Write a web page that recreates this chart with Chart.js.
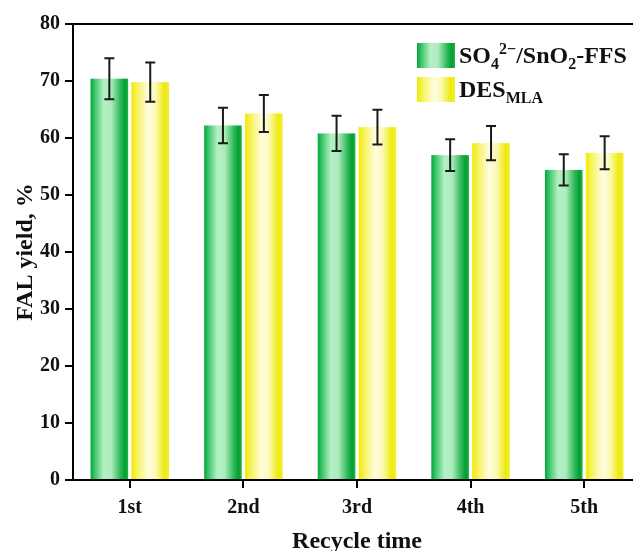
<!doctype html>
<html lang="en">
  <head>
    <meta charset="utf-8">
    <title>FAL yield vs recycle time</title>
    <style>
      * {
        margin: 0;
        padding: 0;
      }
      body {
        width: 633px;
        height: 551px;
        overflow: hidden;
        background: #fff;
        font-family: "Liberation Serif", serif;
      }
      .chartBox {
        position: relative;
        width: 641px;
        height: 551px;
      }
      .legend {
        position: absolute;
        left: 417px;
        top: 43px;
        font-weight: bold;
        font-size: 24px;
        color: #111;
      }
      .legend .row {
        display: flex;
        align-items: center;
        height: 25px;
        margin-bottom: 9px;
      }
      .legend .swatch {
        width: 38px;
        height: 25px;
        margin-right: 4px;
      }
      .legend sub, .legend sup {
        font-size: 16px;
        line-height: 0;
      }
    </style>
  </head>
  <body>
    <div class="chartBox">
      <canvas id="myChart" width="641" height="551"></canvas>
      <div class="legend">
        <div class="row"><span class="swatch" id="swGreen"></span><span>SO<sub>4</sub><sup>2&minus;</sup>/SnO<sub>2</sub>-FFS</span></div>
        <div class="row"><span class="swatch" id="swYellow"></span><span>DES<sub>MLA</sub></span></div>
      </div>
    </div>
    <script src="https://cdn.jsdelivr.net/npm/chart.js/dist/chart.umd.min.js"></script>
    <script>
    // data
    const categories = ['1st', '2nd', '3rd', '4th', '5th'];
    const ffsYield = [70.4, 62.2, 60.8, 57.0, 54.4];
    const ffsErr = [3.6, 3.1, 3.1, 2.8, 2.75];
    const desYield = [69.8, 64.3, 61.9, 59.1, 57.4];
    const desErr = [3.45, 3.25, 3.05, 3.0, 2.9];
    const yTicks = [0, 10, 20, 30, 40, 50, 60, 70, 80];

    // gradient stops for the shaded bars
    const greenStops = [[0, '#00a83a'], [0.12, '#40c66c'], [0.35, '#b4f0c4'], [0.55, '#acecbc'], [0.8, '#2cb656'], [0.92, '#00a030'], [1, '#22b24a']];
    const yellowStops = [[0, '#eeea00'], [0.15, '#f6f35c'], [0.45, '#fffce2'], [0.65, '#fbf8b0'], [0.88, '#eeea0e'], [1, '#f2ee34']];

    const cssGrad = (stops) => 'linear-gradient(to right, ' + stops.map(s => s[1] + ' ' + (s[0] * 100) + '%').join(', ') + ')';
    document.getElementById('swGreen').style.background = cssGrad(greenStops);
    document.getElementById('swYellow').style.background = cssGrad(yellowStops);

    const toPoints = (arr) => arr.map((v, i) => ({ x: i + 1, y: v }));

    const data = {
      datasets: [
        { label: 'SO4 2-/SnO2-FFS', data: toPoints(ffsYield), errors: ffsErr, stops: greenStops, backgroundColor: 'rgba(0,0,0,0)' },
        { label: 'DES MLA', data: toPoints(desYield), errors: desErr, stops: yellowStops, backgroundColor: 'rgba(0,0,0,0)' }
      ]
    };

    // paints gradient bars, error bars and the top frame line
    const barDecor = {
      id: 'barDecor',
      afterDatasetsDraw(chart) {
        const c = chart.ctx;
        const yScale = chart.scales.y;
        chart.data.datasets.forEach((ds, di) => {
          const meta = chart.getDatasetMeta(di);
          meta.data.forEach((el, i) => {
            const { x, y, base, width } = el.getProps(['x', 'y', 'base', 'width'], true);
            const left = x - width / 2;
            const g = c.createLinearGradient(left, 0, left + width, 0);
            ds.stops.forEach(s => g.addColorStop(s[0], s[1]));
            c.fillStyle = g;
            c.fillRect(left, y, width, base - y);
          });
        });
        c.save();
        c.strokeStyle = '#1a1a1a';
        c.lineWidth = 2;
        chart.data.datasets.forEach((ds, di) => {
          const meta = chart.getDatasetMeta(di);
          meta.data.forEach((el, i) => {
            const v = ds.data[i].y;
            const e = ds.errors[i];
            const yt = yScale.getPixelForValue(v + e);
            const yb = yScale.getPixelForValue(v - e);
            c.beginPath();
            c.moveTo(el.x, yt); c.lineTo(el.x, yb);
            c.moveTo(el.x - 5, yt); c.lineTo(el.x + 5, yt);
            c.moveTo(el.x - 5, yb); c.lineTo(el.x + 5, yb);
            c.stroke();
          });
        });
        const a = chart.chartArea;
        c.strokeStyle = '#000';
        c.beginPath();
        c.moveTo(a.left, a.top);
        c.lineTo(a.right, a.top);
        c.stroke();
        c.restore();
      }
    };

    const tickFont = { family: '"Liberation Serif", serif', size: 20, weight: 'bold' };
    const titleFont = { family: '"Liberation Serif", serif', size: 24, weight: 'bold', lineHeight: 1 };

    const config = {
      type: 'bar',
      data,
      options: {
        responsive: false,
        animation: false,
        layout: { padding: { top: 24, right: 0, left: 0, bottom: 0 } },
        datasets: {
          bar: { categoryPercentage: 0.72, barPercentage: 0.92, borderWidth: 0 }
        },
        plugins: {
          legend: { display: false },
          tooltip: { enabled: false }
        },
        scales: {
          x: {
            type: 'linear',
            min: 0.5,
            max: 5.5,
            offset: false,
            afterBuildTicks: (scale) => {
              scale.ticks = categories.map((c, i) => ({ value: i + 1 }));
            },
            afterFit: (scale) => { scale.height = 71; },
            ticks: {
              color: '#111',
              font: tickFont,
              padding: 8,
              maxRotation: 0,
              callback: (value, index) => categories[index]
            },
            grid: { offset: false, drawOnChartArea: false, color: '#000', lineWidth: 2, tickLength: 8 },
            border: { color: '#000', width: 2 },
            title: { display: true, text: 'Recycle time', color: '#111', font: titleFont, padding: { top: 0, bottom: -3 } }
          },
          y: {
            min: 0,
            max: 80,
            afterBuildTicks: (scale) => {
              scale.ticks = yTicks.map(v => ({ value: v }));
            },
            afterFit: (scale) => { scale.width = 73; },
            ticks: { color: '#111', font: tickFont, padding: 5 },
            grid: { drawOnChartArea: false, color: '#000', lineWidth: 2, tickLength: 8 },
            border: { color: '#000', width: 2 },
            title: { display: true, text: 'FAL yield, %', color: '#111', font: titleFont, padding: { top: 14, bottom: 0 } }
          }
        }
      },
      plugins: [barDecor]
    };

    const myChart = new Chart(document.getElementById('myChart'), config);
    </script>
  </body>
</html>
